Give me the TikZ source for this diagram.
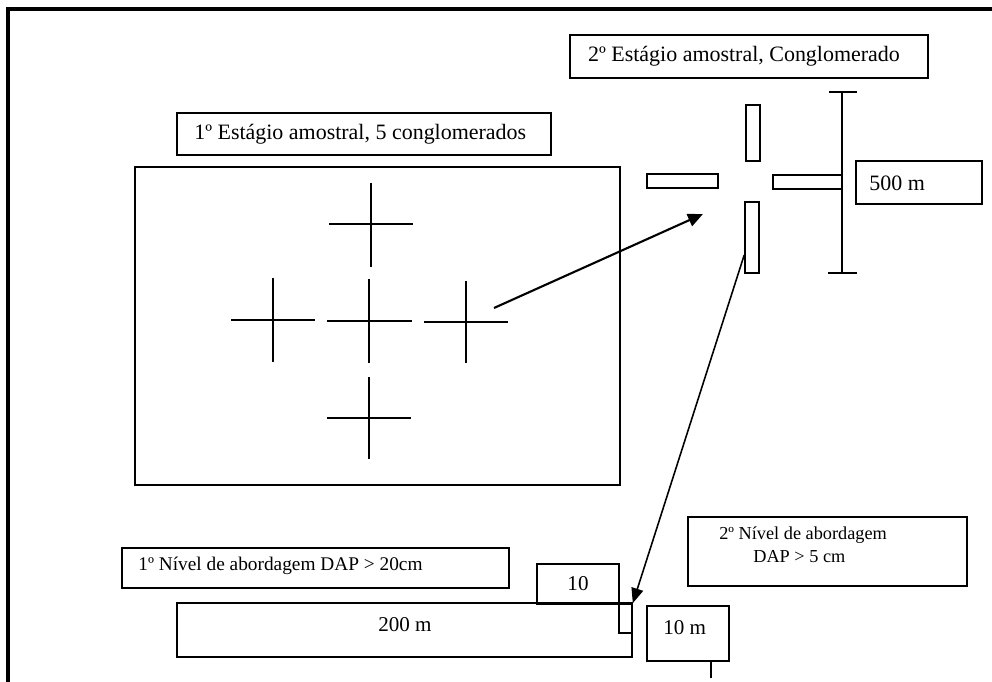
\documentclass[tikz,border=0pt]{standalone}
\usepackage{fontspec}
\setmainfont{Liberation Serif}
\usetikzlibrary{arrows.meta}

\begin{document}
\begin{tikzpicture}[x=0.02cm, y=-0.02cm,
		box/.style={draw, line width=0.9pt, inner sep=0pt},
		lbl/.style={inner sep=0pt, font=\fontsize{11}{13.6}\selectfont},
		biglbl/.style={inner sep=0pt, font=\fontsize{12.5}{15}\selectfont},
		cross/.style={line width=1pt}]
				\useasboundingbox (0,0) rectangle (992,682);
				\draw[line width=1.8pt] (8,682) -- (8,9) -- (992,9);
				
				% primeiro estagio
				\node[box, biglbl, minimum width=7.48cm, minimum height=0.84cm] (est1) at (364,134) {1º Estágio amostral, 5 conglomerados\hspace*{0.15cm}};
				\node[box, minimum width=9.7cm, minimum height=6.36cm] (area) at (377.5,326) {};
				
				\draw[cross] (329,224) -- (413,224) (371,183) -- (371,267);
				\draw[cross] (231,320) -- (315,320) (273,278) -- (273,362);
				\draw[cross] (327,321) -- (412,321) (369,279) -- (369,363);
				\draw[cross] (424,322) -- (508,322) (466,281) -- (466,363);
				\draw[cross] (327,418) -- (411,418) (369,377) -- (369,459);
				
				% segundo estagio
				\node[box, biglbl, minimum width=7.16cm, minimum height=0.86cm] (est2) at (749,56.5) {2º Estágio amostral, Conglomerado\hspace*{0.2cm}};
				\node[box, minimum width=0.28cm, minimum height=1.12cm] (pN) at (753,133) {};
				\node[box, minimum width=1.42cm, minimum height=0.28cm] (pW) at (682.5,181) {};
				\node[box, minimum width=0.28cm, minimum height=1.42cm] (pS) at (752,237.5) {};
				\node[box, minimum width=1.38cm, minimum height=0.28cm] (pE) at (807.5,182) {};
				\draw[line width=0.9pt] (829,92) -- (857,92) (842,92) -- (842,273) (828,273) -- (857,273);
				\node[box, minimum width=2.52cm, minimum height=0.86cm] (m500) at (919,182.5) {};
				\node[biglbl, anchor=west] (t500) at (869,183) {500 m};
				
				% niveis de abordagem
				\node[box, minimum width=7.74cm, minimum height=0.8cm] (niv1) at (315.5,568) {};
				\node[lbl, anchor=west] (tniv1) at (138,566) {1º Nível de abordagem DAP > 20cm};
				\node[box, minimum width=5.58cm, minimum height=1.38cm] (niv2) at (827.5,551.5) {};
				\node[lbl, font=\fontsize{10.4}{13.6}\selectfont, anchor=north west, align=left] (tniv2) at (719,526) {2º Nível de abordagem\\\hspace*{0.68cm}DAP > 5 cm};
				
				\node[box, minimum width=9.1cm, minimum height=1.08cm] (t200) at (404.5,630) {};
				\node[lbl, font=\fontsize{12}{14}\selectfont] (l200) at (405,625) {200 m};
				\node[box, lbl, font=\fontsize{12}{14}\selectfont, minimum width=1.64cm, minimum height=0.8cm] (t10) at (578,584) {10};
				\node[box, minimum width=0.26cm, minimum height=0.58cm] (sub) at (625.5,618.5) {};
				\node[box, minimum width=1.64cm, minimum height=1.1cm] (m10) at (688,633.5) {};
				\node[lbl, font=\fontsize{12}{14}\selectfont, anchor=west] (tm10) at (663,628) {10 m};
				\draw[line width=0.6pt] ([xshift=0.46cm]m10.south) -- ++(0,16);
				
				\coordinate (a1) at (494,308);
				\coordinate (c2) at (703,214);
				\draw[-{Triangle[length=0.3cm, width=0.26cm]}, line width=1.2pt] (a1) -- (c2);
				\draw[-{Triangle[length=0.3cm, width=0.24cm]}, line width=0.9pt] ([yshift=-0.35cm]pS.west) -- (sub.north east);
			\end{tikzpicture}
\end{document}
